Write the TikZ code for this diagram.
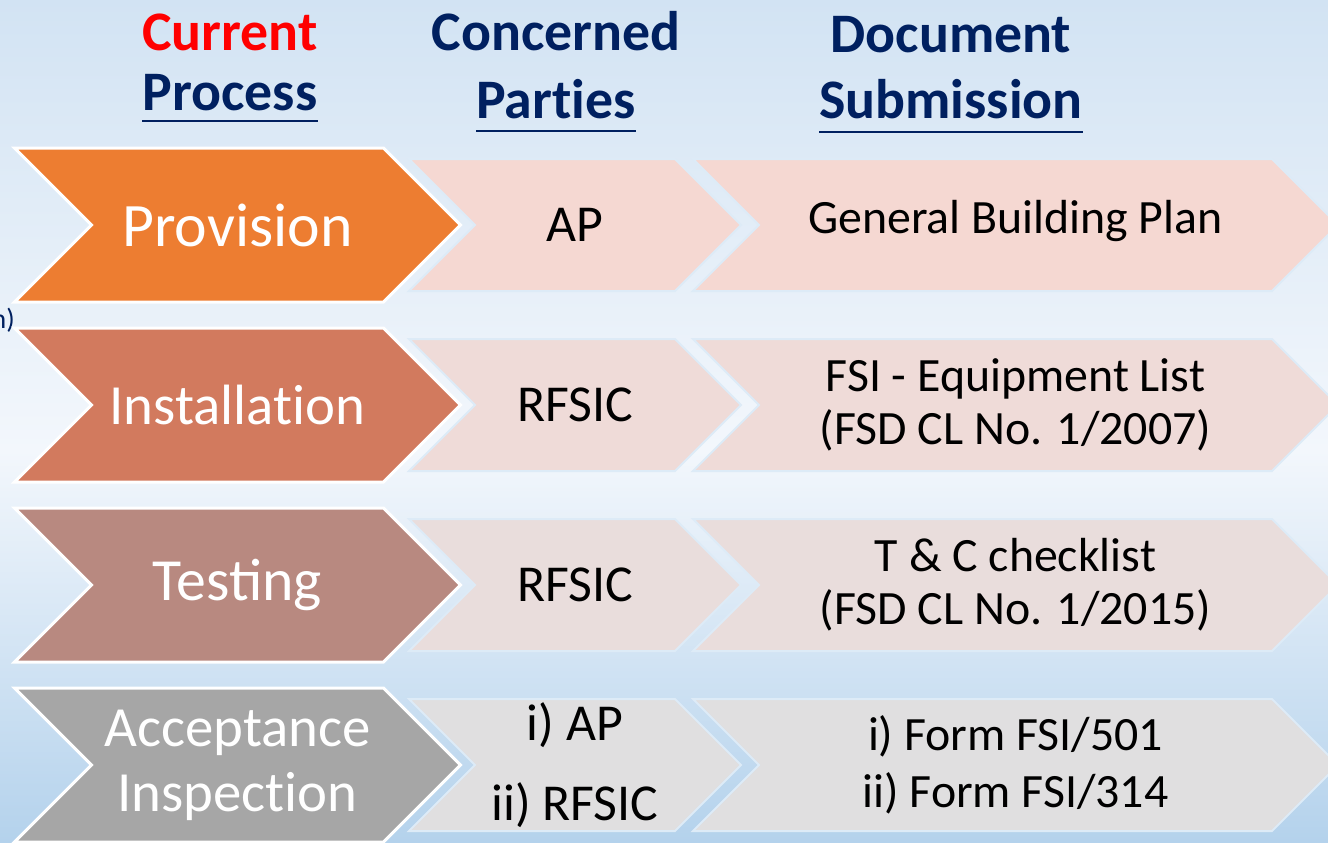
\documentclass[tikz,border=0pt]{standalone}
\usepackage{fontspec}
\setmainfont{Carlito}
\usetikzlibrary{positioning,shapes.symbols}
\definecolor{navyhead}{HTML}{002060}
\definecolor{bgtop}{HTML}{D2E3F3}
\definecolor{bgmid}{HTML}{F3F7FC}
\definecolor{bgbot}{HTML}{B4D2EC}
\definecolor{glow}{HTML}{DDEBF7}
\definecolor{procA}{HTML}{ED7D31}
\definecolor{procB}{HTML}{D27A5E}
\definecolor{procC}{HTML}{B88980}
\definecolor{procD}{HTML}{A6A6A6}
\definecolor{cellA}{HTML}{F5D8D2}
\definecolor{cellB}{HTML}{EFDBD8}
\definecolor{cellC}{HTML}{E9DDDC}
\definecolor{cellD}{HTML}{E0DFE0}
% t and i set apart, no ligature
\newcommand{\ti}{t\kern0pt i}

\begin{document}
\begin{tikzpicture}[x=1bp,y=-1bp,node distance=180bp,on grid,
    chevron/.style={signal,signal from=west,signal to=east,inner sep=0pt,align=center},
    procbox/.style={chevron,draw=white,line width=3bp,minimum width=446bp,minimum height=154bp,
      text=white,font=\fontsize{60}{65}\selectfont},
    partybox/.style={chevron,draw=glow,line width=2bp,minimum width=332bp,minimum height=132bp,
      font=\fontsize{52}{58}\selectfont},
    docbox/.style={chevron,draw=glow,line width=2bp,minimum width=645bp,minimum height=132bp,
      font=\fontsize{48}{53}\selectfont},
    headtxt/.style={inner sep=0pt,anchor=base,text=navyhead,font=\bfseries\fontsize{56}{60}\selectfont},
    underl/.style={navyhead,line width=2bp}]

      \useasboundingbox (0,0) rectangle (1328,842);
      \shade[top color=bgtop,bottom color=bgmid] (0,0) rectangle (1328,450);
      \shade[top color=bgmid,bottom color=bgbot] (0,450) rectangle (1328,842);

      % column heads
      \node[headtxt,text=red]   (cur-hd)  at (230,50)  {Current};
      \node[headtxt]            (proc-hd) at (230,110) {Process};
      \node[headtxt]            (con-hd)  at (556,50)  {Concerned};
      \node[headtxt]            (par-hd)  at (556,118) {Par\ti es};
      \node[headtxt]            (doc-hd)  at (951,52)  {Document};
      \node[headtxt]            (sub-hd)  at (951,118) {Submission};
      \draw[underl] ([yshift=-11bp]proc-hd.base west) -- ([yshift=-11bp]proc-hd.base east);
      \draw[underl] ([yshift=-13bp]par-hd.base west) -- ([yshift=-13bp]par-hd.base east);
      \draw[underl] ([yshift=-14bp]sub-hd.base west) -- ([yshift=-14bp]sub-hd.base east);

      \node[anchor=east,inner sep=0pt,text=navyhead,font=\fontsize{28}{30}\selectfont] (cut-txt) at (15,320) {n)};

      % process column
      \node[procbox,fill=procA,font=\fontsize{62}{65}\selectfont] (prov) at (237.5,225) {Provision};
      \node[procbox,fill=procB,font=\fontsize{57}{65}\selectfont] (inst) [below=of prov] {Installa\ti on};
      \node[procbox,fill=procC] (test) [below=of inst] {Testing};
      \node[procbox,fill=procD,font=\fontsize{57}{65}\selectfont] (acc) [below=of test] {Acceptance\\Inspec\ti on};

      % parties column
      \node[partybox,fill=cellA] (prov-par) [right=337.5bp of prov] {AP};
      \node[partybox,fill=cellB] (inst-par) [right=337.5bp of inst] {RFSIC};
      \node[partybox,fill=cellC] (test-par) [right=337.5bp of test] {RFSIC};
      \node[partybox,fill=cellD] (acc-par)  [right=337.5bp of acc]  {i) AP\\[22bp]ii) RFSIC};

      % documents column
      \node[docbox,fill=cellA,text depth=16bp] (prov-doc) [right=440.5bp of prov-par] {General Building Plan};
      \node[docbox,fill=cellB] (inst-doc) [right=440.5bp of inst-par] {FSI - Equipment List\\(FSD CL No. 1/2007)};
      \node[docbox,fill=cellC] (test-doc) [right=440.5bp of test-par] {T \& C checklist\\(FSD CL No. 1/2015)};
      \node[docbox,fill=cellD] (acc-doc)  [right=440.5bp of acc-par]  {i) Form FSI/501\\[4bp]ii) Form FSI/314};
    \end{tikzpicture}
\end{document}
